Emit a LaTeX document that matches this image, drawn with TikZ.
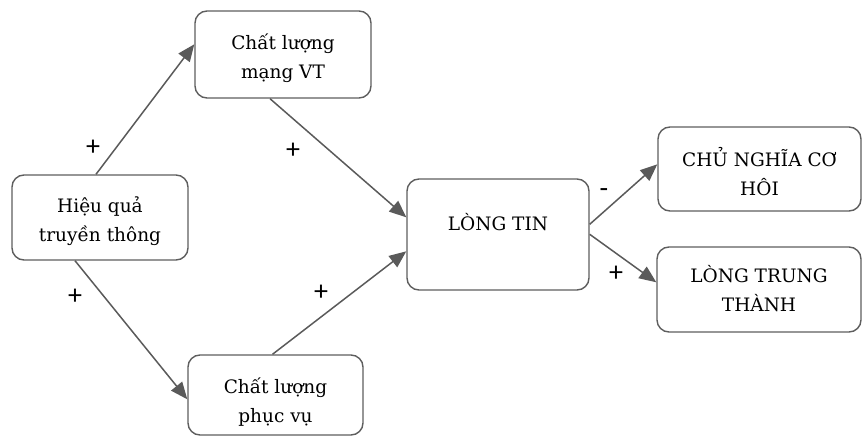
\documentclass[tikz,border=0pt]{standalone}
\usepackage{fontspec}
\setmainfont{DejaVu Serif}
\newfontfamily\plusfont{Carlito}
\usetikzlibrary{arrows.meta,calc}
\definecolor{edge}{HTML}{5E5E5E}
\definecolor{arr}{HTML}{5A5A5A}
\tikzset{
  box/.style={draw=edge, line width=1.4pt, rounded corners=12pt, inner sep=0pt},
  txt/.style={align=center, font=\fontsize{18.5}{29}\selectfont, inner sep=0pt},
  sign/.style={font=\plusfont\fontsize{28}{30}\selectfont, inner sep=0pt},
  link/.style={draw=arr, line width=1.5pt, -{Triangle[length=17pt,width=14pt]}}
}
\begin{document}
\begin{tikzpicture}[x=1pt,y=-1pt]
\useasboundingbox (0,0) rectangle (862,436);
% boxes
\node[box, minimum width=176pt, minimum height=87pt] (m) at (283,54.5) {};
\node[box, minimum width=176pt, minimum height=85pt] (h) at (100,217.5) {};
\node[box, minimum width=175pt, minimum height=80pt] (p) at (275.5,395) {};
\node[box, minimum width=182pt, minimum height=111pt] (lt) at (498,234.5) {};
\node[box, minimum width=203pt, minimum height=84pt] (c) at (759.5,169) {};
\node[box, minimum width=204pt, minimum height=85pt] (t) at (759,289.5) {};
% texts
\node[txt] (mt) at (283,58) {Chất lượng\\mạng VT};
\node[txt] (ht) at (100,221) {Hiệu quả\\truyền thông};
\node[txt] (pt) at (275.5,402) {Chất lượng\\phục vụ};
\node[txt] (ltt) at (498,222) {LÒNG TIN};
\node[txt] (ct) at (759.5,172) {CHỦ NGHĨA CƠ\\HÔI};
\node[txt] (tt) at (759,289) {LÒNG TRUNG\\THÀNH};
% connectors
\draw[link] ([xshift=-4pt]h.north) -- ([yshift=-34pt]m.north west);
\draw[link] ([xshift=-13pt]m.south) -- ([yshift=-39pt]lt.north west);
\draw[link] ([xshift=-25pt]h.south) -- ([yshift=-45pt]p.north west);
\draw[link] ([xshift=-3pt]p.north) -- ([yshift=-73pt]lt.north west);
\draw[link] ([yshift=-46pt]lt.north east) -- ([yshift=-38pt]c.north west);
\draw[link] ([yshift=-56pt]lt.north east) -- ([yshift=-36pt]t.north west);
% signs
\node[sign] (s1) at (93,148) {+};
\node[sign] (s2) at (293,151) {+};
\node[sign] (s3) at (75,297) {+};
\node[sign] (s4) at (321,293) {+};
\node[sign] (s5) at (604,193) {-};
\node[sign] (s6) at (616,274) {+};
\end{tikzpicture}
\end{document}
